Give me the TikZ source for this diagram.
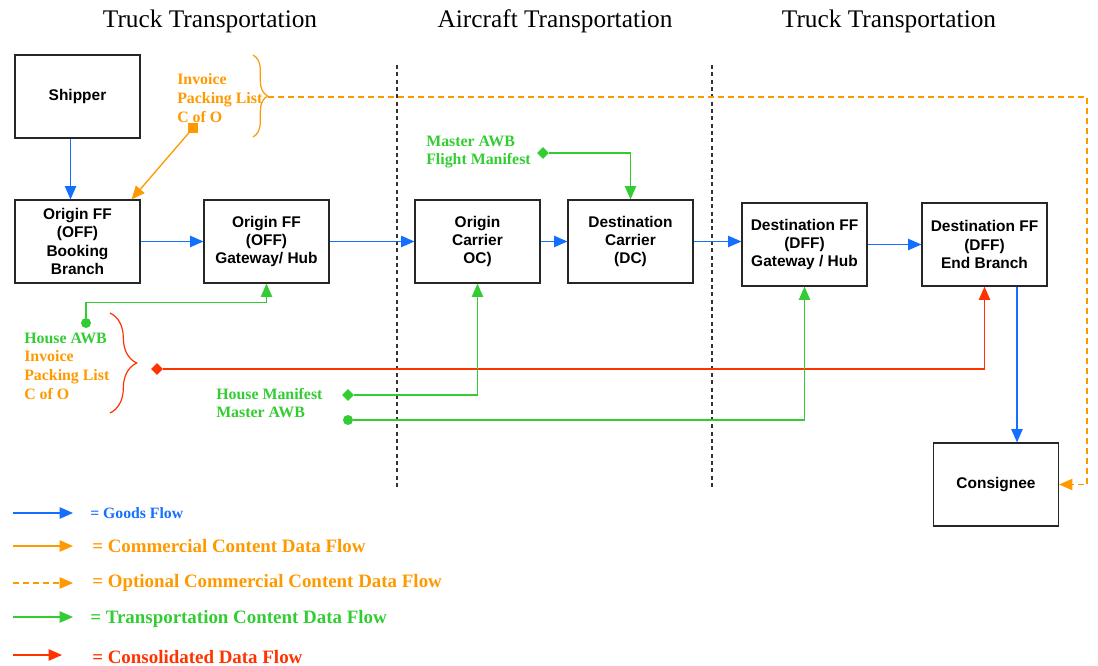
\documentclass[tikz,border=0pt]{standalone}
\usepackage{fontspec}
\setmainfont{Liberation Serif}
\newfontfamily\boxfont{Liberation Sans}
\usetikzlibrary{arrows.meta,calc,positioning,shapes.geometric,decorations.pathreplacing}
\definecolor{goodsblue}{RGB}{20,110,255}
\definecolor{commorange}{RGB}{255,153,0}
\definecolor{transgreen}{RGB}{51,204,51}
\definecolor{consred}{RGB}{255,51,0}

\begin{document}
\begin{tikzpicture}[x=0.75pt,y=-0.75pt,
  obj/.style={draw=black!85, line width=0.9pt, fill=white, minimum width=93.75pt, minimum height=62.25pt, align=center, inner sep=1pt, font=\boxfont\bfseries\fontsize{11.6}{13.8}\selectfont},
  title/.style={font=\fontsize{19}{22}\selectfont},
  lbl/.style={font=\bfseries\fontsize{11.9}{14}\selectfont, align=left, inner sep=0, anchor=west},
  leg/.style={font=\bfseries\fontsize{14.2}{17}\selectfont, anchor=west, inner sep=0},
  tip/.style={-{Triangle[length=10pt,width=8.5pt]}},
  goods/.style={tip, goodsblue, line width=1pt},
  comm/.style={tip, commorange, line width=1pt},
  optc/.style={comm, dash pattern=on 4.5pt off 3pt},
  trans/.style={tip, transgreen, line width=1pt},
  cons/.style={tip, consred, line width=1pt},
  sep/.style={black!80, line width=0.8pt, dash pattern=on 3pt off 2.5pt},
  dot/.style={circle, inner sep=0, minimum size=7.5pt},
  dia/.style={diamond, inner sep=0, minimum size=9pt},
  brc/.style={decorate, line width=0.9pt}
]
\useasboundingbox (0,0) rectangle (1098,666);

\node[title] (t1) at (210,21) {Truck Transportation};
\node[title] (t2) at (555,21) {Aircraft Transportation};
\node[title] (t3) at (889,21) {Truck Transportation};

\draw[sep] (397,65) -- (397,490);
\draw[sep] (712,65) -- (712,490);

\node[obj] (ship) at (77.5,96.5) {Shipper};
\node[obj] (book) at (77.5,241.5) {Origin FF\\(OFF)\\Booking\\Branch};
\node[obj] (gw) at (266.5,241.5) {Origin FF\\(OFF)\\Gateway/ Hub};
\node[obj] (oc) at (477.5,241.5) {Origin\\Carrier\\OC)};
\node[obj] (dc) at (630.5,241.5) {Destination\\Carrier\\(DC)};
\node[obj] (dffgw) at (804.5,244.5) {Destination FF\\(DFF)\\Gateway / Hub};
\node[obj] (eb) at (984.5,244.5) {Destination FF\\(DFF)\\End Branch};
\node[obj] (cons) at (996,484.5) {Consignee};

\coordinate (shipout) at ($(ship.south)+(-7,0)$);
\coordinate (ebout) at ($(eb.south)+(32.5,0)$);
\draw[goods] (shipout) -- (shipout |- book.north);
\draw[goods] (book) -- (gw);
\draw[goods] (gw) -- (oc);
\draw[goods] (oc) -- (dc);
\draw[goods] (dc) -- (dc -| dffgw.west);
\draw[goods] (dffgw) -- (eb);
\draw[goods] (ebout) -- (ebout |- cons.north);

\node[lbl, commorange] (invl) at (177,98) {Invoice\\Packing List\\C of O};
\node[rectangle, fill=commorange, inner sep=0, minimum size=7pt] (osq) at (193,128) {};
\draw[comm] (osq) -- ($(book.north east)+(-9,0)$);
\draw[commorange, brc, decoration={brace, amplitude=11pt}] (253,55) -- (253,137);
\coordinate (obrace) at (268,97);
\coordinate (oturn) at (1087,97);
\draw[optc] (obrace) -- (oturn) |- (cons.east);

\node[lbl, transgreen] (mawb) at (426,152) {Master AWB\\Flight Manifest};
\node[dia, fill=transgreen] (mdia) at (543,153) {};
\draw[trans] (mdia) -| (dc.north);

\node[lbl] (hawb) at (24,366) {{\color{transgreen}House AWB}\\{\color{commorange}Invoice}\\{\color{commorange}Packing List}\\{\color{commorange}C of O}};
\draw[consred, brc, decoration={brace, amplitude=20pt}] (110,313) -- (110,413);
\node[dot, fill=transgreen] (gc1) at (86,323) {};
\draw[trans] (gc1) |- ($(gw.south)+(0,19)$) -- (gw.south);
\node[dia, fill=consred] (rdia) at (157,369) {};
\draw[cons] (rdia) -| (eb.south);

\node[lbl, transgreen] (hman) at (216,403) {House Manifest\\Master AWB};
\node[dia, fill=transgreen] (hdia) at (348,395) {};
\node[dot, fill=transgreen] (gc2) at (348,420) {};
\draw[trans] (hdia) -| (oc.south);
\draw[trans] (gc2) -| (dffgw.south);

\coordinate (l1a) at (13,513);
\coordinate (l1b) at (73,513);
\coordinate (l2a) at (13,546);
\coordinate (l2b) at (73,546);
\coordinate (l3a) at (13,583);
\coordinate (l3b) at (73,583);
\coordinate (l4a) at (13,617);
\coordinate (l4b) at (73,617);
\coordinate (l5a) at (13,655);
\coordinate (l5b) at (62,655);
\draw[goods] (l1a) -- (l1b);
\draw[comm] (l2a) -- (l2b);
\draw[optc] (l3a) -- (l3b);
\draw[trans] (l4a) -- (l4b);
\draw[cons] (l5a) -- (l5b);
\node[leg, goodsblue, font=\bfseries\fontsize{11.8}{14}\selectfont] (g1) at (90,513) {= Goods Flow};
\node[leg, commorange] (g2) at (92,546) {= Commercial Content Data Flow};
\node[leg, commorange] (g3) at (92,583) {= Optional Commercial Content Data Flow};
\node[leg, transgreen] (g4) at (90,619) {= Transportation Content Data Flow};
\node[leg, consred] (g5) at (92,657) {= Consolidated Data Flow};
\end{tikzpicture}
\end{document}
